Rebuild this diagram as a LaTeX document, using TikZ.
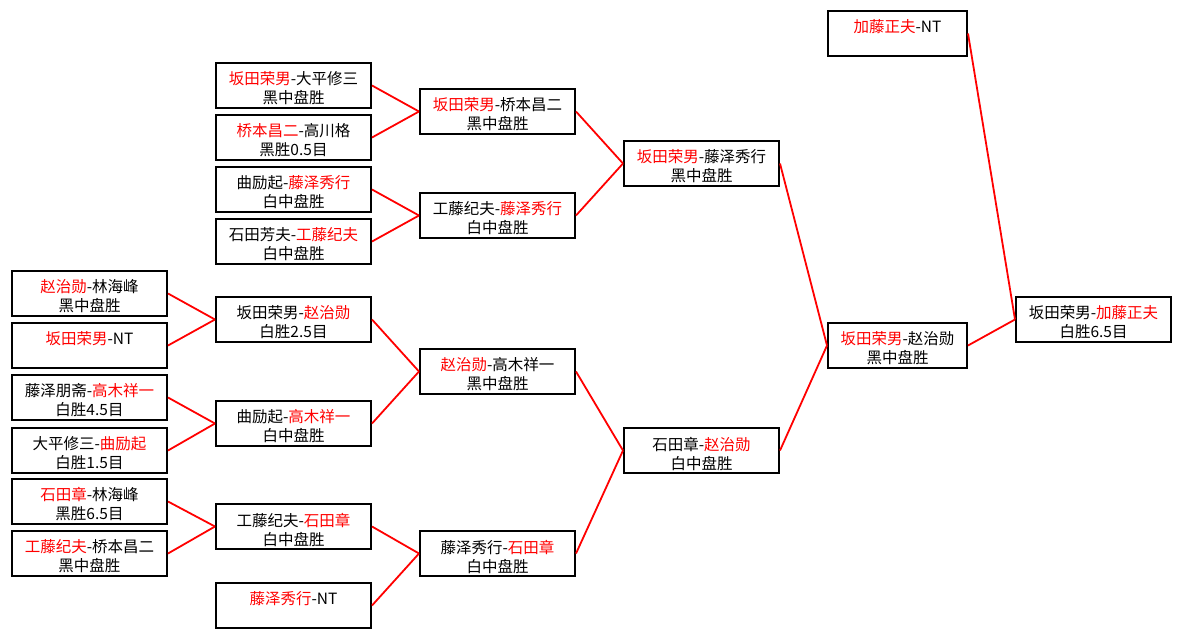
\documentclass[tikz,border=0pt]{standalone}
\usepackage{fontspec}
\newfontfamily\cjk{Noto Sans CJK SC}
\newcommand\redname[1]{\textcolor{red}{#1}}
\begin{document}
\begin{tikzpicture}[x=1pt,y=-1pt,
  match/.style={draw=black, line width=2pt, minimum width=155pt, minimum height=45pt, inner sep=0pt, anchor=north west},
  narrow/.style={minimum width=139pt},
  lbl/.style={align=center, font=\cjk\fontsize{15.5}{19}\selectfont, inner sep=0pt},
  link/.style={draw=red, line width=1.8pt}
]
\useasboundingbox (0,0) rectangle (1180,637);
\fill[white] (0,0) rectangle (1180,637);
% round 1
\node[match] (A1) at (11,270) {};
\node[lbl] (A1t) at ([yshift=-3]A1.center) {\redname{赵治勋}-林海峰\\黑中盘胜};
\node[match] (A2) at (11,322) {};
\node[lbl] (A2t) at ([yshift=-3]A2.center) {\redname{坂田荣男}-NT\\\phantom{黑中盘胜}};
\node[match] (A3) at (11,374) {};
\node[lbl] (A3t) at ([yshift=-3]A3.center) {藤泽朋斋-\redname{高木祥一}\\白胜4.5目};
\node[match] (A4) at (11,427) {};
\node[lbl] (A4t) at ([yshift=-3]A4.center) {大平修三-\redname{曲励起}\\白胜1.5目};
\node[match] (A5) at (11,478) {};
\node[lbl] (A5t) at ([yshift=-3]A5.center) {\redname{石田章}-林海峰\\黑胜6.5目};
\node[match] (A6) at (11,530) {};
\node[lbl] (A6t) at ([yshift=-3]A6.center) {\redname{工藤纪夫}-桥本昌二\\黑中盘胜};
% round 2
\node[match] (B1) at (215,62) {};
\node[lbl] (B1t) at ([yshift=-3]B1.center) {\redname{坂田荣男}-大平修三\\黑中盘胜};
\node[match] (B2) at (215,114) {};
\node[lbl] (B2t) at ([yshift=-3]B2.center) {\redname{桥本昌二}-高川格\\黑胜0.5目};
\node[match] (B3) at (215,166) {};
\node[lbl] (B3t) at ([yshift=-3]B3.center) {曲励起-\redname{藤泽秀行}\\白中盘胜};
\node[match] (B4) at (215,218) {};
\node[lbl] (B4t) at ([yshift=-3]B4.center) {石田芳夫-\redname{工藤纪夫}\\白中盘胜};
\node[match] (B5) at (215,296) {};
\node[lbl] (B5t) at ([yshift=-3]B5.center) {坂田荣男-\redname{赵治勋}\\白胜2.5目};
\node[match] (B6) at (215,400) {};
\node[lbl] (B6t) at ([yshift=-3]B6.center) {曲励起-\redname{高木祥一}\\白中盘胜};
\node[match] (B7) at (215,503) {};
\node[lbl] (B7t) at ([yshift=-3]B7.center) {工藤纪夫-\redname{石田章}\\白中盘胜};
\node[match] (B8) at (215,582) {};
\node[lbl] (B8t) at ([yshift=-3]B8.center) {\redname{藤泽秀行}-NT\\\phantom{白中盘胜}};
% round 3
\node[match] (C1) at (419,88) {};
\node[lbl] (C1t) at ([yshift=-3]C1.center) {\redname{坂田荣男}-桥本昌二\\黑中盘胜};
\node[match] (C2) at (419,192) {};
\node[lbl] (C2t) at ([yshift=-3]C2.center) {工藤纪夫-\redname{藤泽秀行}\\白中盘胜};
\node[match] (C3) at (419,348) {};
\node[lbl] (C3t) at ([yshift=-3]C3.center) {\redname{赵治勋}-高木祥一\\黑中盘胜};
\node[match] (C4) at (419,530) {};
\node[lbl] (C4t) at ([yshift=-3]C4.center) {藤泽秀行-\redname{石田章}\\白中盘胜};
% round 4
\node[match] (D1) at (623,140) {};
\node[lbl] (D1t) at ([yshift=-3]D1.center) {\redname{坂田荣男}-藤泽秀行\\黑中盘胜};
\node[match] (D2) at (623,427) {};
\node[lbl] (D2t) at ([yshift=-3]D2.center) {石田章-\redname{赵治勋}\\白中盘胜};
% round 5
\node[match,narrow] (E1) at (827,10) {};
\node[lbl] (E1t) at ([yshift=-3]E1.center) {\redname{加藤正夫}-NT\\\phantom{黑中盘胜}};
\node[match,narrow] (E2) at (827,322) {};
\node[lbl] (E2t) at ([yshift=-3]E2.center) {\redname{坂田荣男}-赵治勋\\黑中盘胜};
% final
\node[match] (F) at (1015,296) {};
\node[lbl] (Ft) at ([yshift=-3]F.center) {坂田荣男-\redname{加藤正夫}\\白胜6.5目};
% connectors
\draw[link] (A1.east) -- (B5.west);
\draw[link] (A2.east) -- (B5.west);
\draw[link] (A3.east) -- (B6.west);
\draw[link] (A4.east) -- (B6.west);
\draw[link] (A5.east) -- (B7.west);
\draw[link] (A6.east) -- (B7.west);
\draw[link] (B1.east) -- (C1.west);
\draw[link] (B2.east) -- (C1.west);
\draw[link] (B3.east) -- (C2.west);
\draw[link] (B4.east) -- (C2.west);
\draw[link] (B5.east) -- (C3.west);
\draw[link] (B6.east) -- (C3.west);
\draw[link] (B7.east) -- (C4.west);
\draw[link] (B8.east) -- (C4.west);
\draw[link] (C1.east) -- (D1.west);
\draw[link] (C2.east) -- (D1.west);
\draw[link] (C3.east) -- (D2.west);
\draw[link] (C4.east) -- (D2.west);
\draw[link] (D1.east) -- (E2.west);
\draw[link] (D2.east) -- (E2.west);
\draw[link] (E1.east) -- (F.west);
\draw[link] (E2.east) -- (F.west);
\end{tikzpicture}
\end{document}
